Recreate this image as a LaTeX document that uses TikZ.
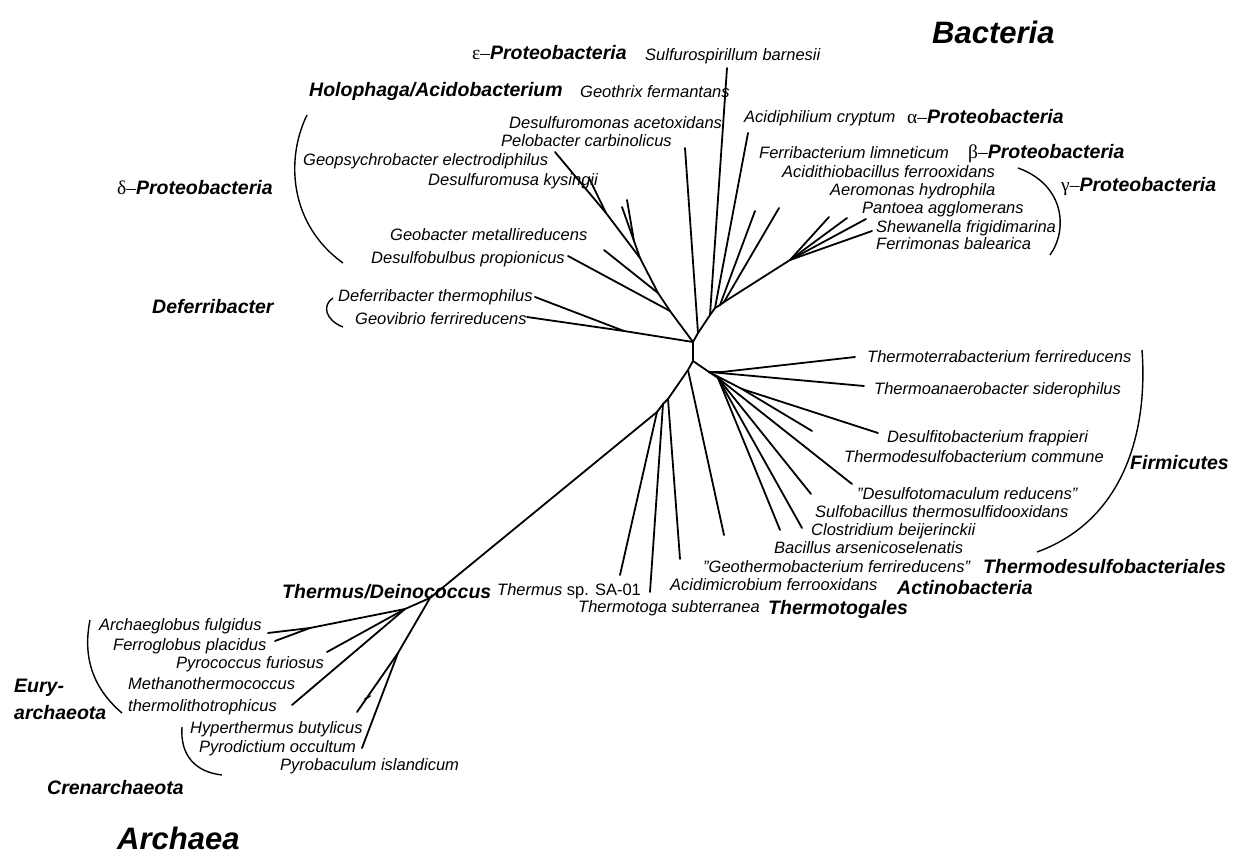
\documentclass[tikz,border=0pt]{standalone}
\usepackage{fontspec}
\setmainfont{Liberation Sans}
\newfontfamily\grkfont{Liberation Serif}
\usetikzlibrary{positioning}

\tikzset{
  br/.style={line width=1.8pt,line cap=round},
  brace/.style={line width=1.4pt},
  sp/.style={anchor=west,inner sep=0pt,text height=11pt,text depth=0pt,font=\fontsize{16.5}{18}\selectfont\itshape},
  grp/.style={anchor=west,inner sep=0pt,text height=13.5pt,text depth=0pt,font=\fontsize{19.5}{22}\selectfont\bfseries\itshape},
  realm/.style={anchor=west,inner sep=0pt,text height=22pt,text depth=0pt,font=\fontsize{31}{34}\selectfont\bfseries\itshape},
}
\newcommand{\grkpre}[1]{{\grkfont\mdseries\upshape #1–}}

\begin{document}
\begin{tikzpicture}[x=1pt,y=-1pt]
\useasboundingbox (0,0) rectangle (1235,858);

% junctions
\coordinate (A) at (693,342);
\coordinate (B) at (693,361);
\coordinate (Ds) at (624,331);
\coordinate (Dd1) at (670,311);
\coordinate (Dd2) at (658,293);
\coordinate (Dd3) at (640,258);
\coordinate (Dp) at (634,241);
\coordinate (Dd4) at (606,213);
\coordinate (J1) at (698,333);
\coordinate (J2) at (710,315);
\coordinate (J3) at (715,308);
\coordinate (J4) at (720,305);
\coordinate (J5) at (724,302);
\coordinate (G) at (790,260);
\coordinate (F) at (709,372);
\coordinate (F1) at (722,372);
\coordinate (F2) at (718,378);
\coordinate (F3) at (742,389);
\coordinate (T1) at (688,370);
\coordinate (T2) at (668,399);
\coordinate (T3) at (663,404);
\coordinate (T4) at (657,412);
\coordinate (Ar0) at (430,598);
\coordinate (Ar1) at (405,609);
\coordinate (Ar2) at (310,628);
\coordinate (Ar3) at (398,653);
\coordinate (Hp) at (365,699);

% leaves
\coordinate (dthe) at (535,297);
\coordinate (gfer) at (527,317);
\coordinate (dpro) at (568,256);
\coordinate (gmet) at (604,250);
\coordinate (dsh1) at (622,207);
\coordinate (dsh2) at (627,200);
\coordinate (pcar) at (555,152);
\coordinate (dkys) at (589,178);
\coordinate (dace) at (685,148);
\coordinate (sbar) at (727,68);
\coordinate (acry) at (748,133);
\coordinate (flim) at (755,211);
\coordinate (afer) at (779,208);
\coordinate (ahyd) at (829,217);
\coordinate (pagg) at (847,218);
\coordinate (sfri) at (866,219);
\coordinate (fbal) at (872,231);
\coordinate (tter) at (855,357);
\coordinate (tsid) at (864,386);
\coordinate (dfra) at (878,433);
\coordinate (tcom) at (812,431);
\coordinate (dred) at (852,484);
\coordinate (sthe) at (811,494);
\coordinate (cbei) at (802,528);
\coordinate (bars) at (780,530);
\coordinate (gthe) at (724,535);
\coordinate (afe2) at (680,559);
\coordinate (tsub) at (650,592);
\coordinate (tsa) at (620,575);
\coordinate (aful) at (268,633);
\coordinate (fpla) at (275,641);
\coordinate (pfur) at (327,652);
\coordinate (mthe) at (292,705);
\coordinate (hbut) at (357,712);
\coordinate (pocc) at (362,748);

% Bacteria, upper part
\draw[br] (B) -- (A);
\draw[br] (A) -- (Ds) -- (gfer);
\draw[br] (Ds) -- (dthe);
\draw[br] (A) -- (Dd1) -- (Dd2) -- (Dd3) -- (Dd4) -- (pcar);
\draw[br] (Dd4) -- (dkys);
\draw[br] (Dd1) -- (dpro);
\draw[br] (Dd2) -- (gmet);
\draw[br] (Dd3) -- (Dp) -- (dsh1);
\draw[br] (Dp) -- (dsh2);
\draw[br] (A) -- (J1) -- (J2) -- (J3) -- (J4) -- (J5) -- (G);
\draw[br] (J1) -- (dace);
\draw[br] (J2) -- (sbar);
\draw[br] (J3) -- (acry);
\draw[br] (J4) -- (flim);
\draw[br] (J5) -- (afer);
\foreach \leaf in {ahyd,pagg,sfri,fbal}
  \draw[br] (G) -- (\leaf);

% Bacteria, lower part
\draw[br] (B) -- (F) -- (F1) -- (tter);
\draw[br] (F) -- (tsid);
\draw[br] (F) -- (F2);
\draw[br] (F) -- (F3) -- (dfra);
\draw[br] (F3) -- (tcom);
\foreach \leaf in {dred,sthe,cbei,bars}
  \draw[br] (F2) -- (\leaf);
\draw[br] (B) -- (T1) -- (T2) -- (T3) -- (T4) -- (Ar0);
\draw[br] (T1) -- (gthe);
\draw[br] (T2) -- (afe2);
\draw[br] (T3) -- (tsub);
\draw[br] (T4) -- (tsa);

% Archaea
\draw[br] (Ar0) -- (Ar1) -- (Ar2) -- (aful);
\draw[br] (Ar2) -- (fpla);
\draw[br] (Ar1) -- (pfur);
\draw[br] (Ar1) -- (mthe);
\draw[br] (Ar0) -- (Ar3) -- (hbut);
\draw[br] (Ar3) -- (pocc);
\draw[br] (Hp) -- ++(5,-3);

% brackets
\draw[brace] (307,115) .. controls (285,160) and (290,225) .. (343,263);
\draw[brace] (333,298) .. controls (322,305) and (325,320) .. (343,327);
\draw[brace] (1018,168) .. controls (1065,185) and (1068,230) .. (1050,255);
\draw[brace] (1142,350) .. controls (1148,430) and (1125,520) .. (1037,552);
\draw[brace] (90,620) .. controls (82,660) and (95,690) .. (122,713);
\draw[brace] (182,727) .. controls (180,755) and (195,772) .. (222,775);

% labels
\node[realm] (bact) at (932,33) {Bacteria};
\node[realm] (arch) at (117,838) {Archaea};

\node[grp] (eps) at (472,53) {\grkpre{ε}Proteobacteria};
\node[sp] (tsbar) at (645,55) {Sulfurospirillum barnesii};
\node[grp] (holo) at (309,90) {Holophaga/Acidobacterium};
\node[sp] (tgfer) at (580,92) {Geothrix fermantans};
\node[sp] (tdace) at (509,123) {Desulfuromonas acetoxidans};
\node[sp] (tpcar) at (501,141) {Pelobacter carbinolicus};
\node[sp] (tgele) at (303,160) {Geopsychrobacter electrodiphilus};
\node[sp] (tdkys) at (428,180) {Desulfuromusa kysingii};
\node[grp] (delta) at (117,188) {\grkpre{δ}Proteobacteria};
\node[sp] (tgmet) at (390,235) {Geobacter metallireducens};
\node[sp] (tdpro) at (371,258) {Desulfobulbus propionicus};
\node[grp] (defe) at (152,307) {Deferribacter};
\node[sp] (tdthe) at (338,296) {Deferribacter thermophilus};
\node[sp] (tgvib) at (355,319) {Geovibrio ferrireducens};

\node[sp] (tacry) at (744,117) {Acidiphilium cryptum};
\node[grp] (alpha) at (907,117) {\grkpre{α}Proteobacteria};
\node[sp] (tflim) at (759,153) {Ferribacterium limneticum};
\node[grp] (beta) at (968,152) {\grkpre{β}Proteobacteria};
\node[sp] (tafer) at (782,172) {Acidithiobacillus ferrooxidans};
\node[grp] (gamma) at (1061,185) {\grkpre{γ}Proteobacteria};
\node[sp] (tahyd) at (830,190) {Aeromonas hydrophila};
\node[sp] (tpagg) at (862,208) {Pantoea agglomerans};
\node[sp] (tsfri) at (876,227) {Shewanella frigidimarina};
\node[sp] (tfbal) at (876,244) {Ferrimonas balearica};

\node[sp] (ttter) at (867,357) {Thermoterrabacterium ferrireducens};
\node[sp] (ttsid) at (874,389) {Thermoanaerobacter siderophilus};
\node[sp] (tdfra) at (887,437) {Desulfitobacterium frappieri};
\node[sp] (ttcom) at (844,457) {Thermodesulfobacterium commune};
\node[grp] (firm) at (1130,463) {Firmicutes};
\node[sp] (tdred) at (857,494) {”Desulfotomaculum reducens”};
\node[sp] (tsthe) at (815,512) {Sulfobacillus thermosulfidooxidans};
\node[sp] (tcbei) at (811,530) {Clostridium beijerinckii};
\node[sp] (tbars) at (774,548) {Bacillus arsenicoselenatis};
\node[sp] (tgthe) at (703,567) {”Geothermobacterium ferrireducens”};
\node[grp] (tdsb) at (983,567) {Thermodesulfobacteriales};
\node[sp] (tafe2) at (670,585) {Acidimicrobium ferrooxidans};
\node[grp] (actino) at (897,588) {Actinobacteria};
\node[grp] (deino) at (282,592) {Thermus/Deinococcus};
\node[sp] (ttsa) at (497,590) {Thermus\/ \upshape sp. SA-01};
\node[sp] (ttsub) at (578,607) {Thermotoga subterranea};
\node[grp] (toga) at (768,608) {Thermotogales};

\node[sp] (taful) at (99,625) {Archaeglobus fulgidus};
\node[sp] (tfpla) at (113,645) {Ferroglobus placidus};
\node[sp] (tpfur) at (176,663) {Pyrococcus furiosus};
\node[sp] (tmth1) at (128,684) {Methanothermococcus};
\node[sp] (tmth2) at (128,706) {thermolithotrophicus};
\node[grp] (eury1) at (14,686) {Eury-};
\node[grp] (eury2) at (14,713) {archaeota};
\node[sp] (thbut) at (190,728) {Hyperthermus butylicus};
\node[sp] (tpocc) at (199,747) {Pyrodictium occultum};
\node[sp] (tpisl) at (280,765) {Pyrobaculum islandicum};
\node[grp] (cren) at (47,788) {Crenarchaeota};
\end{tikzpicture}
\end{document}
